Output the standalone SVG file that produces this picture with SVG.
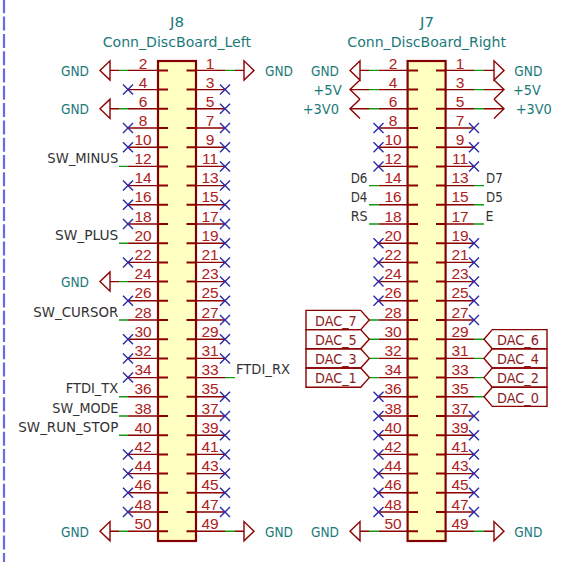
<svg xmlns="http://www.w3.org/2000/svg" width="573" height="562" viewBox="0 0 573 562">
<style>
text{font-family:"DejaVu Sans",sans-serif;font-size:14.5px}
.p{stroke:#8c0000;stroke-width:1.4;fill:none}
.h{stroke:#8c0000;stroke-width:1.4;fill:none}
.w{stroke:#109a10;stroke-width:1.4;fill:none}
.s{stroke:#8c0000;stroke-width:2;fill:none}
.b{fill:#ffffc2;stroke:#840000;stroke-width:2.2}
.n{fill:#b02020;font-family:"Liberation Sans",sans-serif;font-size:15.5px;text-anchor:middle}
.r{fill:#1a7a7a}
.l{fill:#333}
.d{fill:#8a1c1c}
.x{stroke:#2828a8;stroke-width:1.4;fill:none}
</style>
<defs>
<path id="x" class="x" d="M-5-5L5 5M-5 5L5-5"/>
<path id="gl" class="h" d="M0-9.6V9.6L-10 0Z"/>
<path id="gr" class="h" d="M0-9.6V9.6L10 0Z"/>
<path id="al" class="h" d="M0-9.6L-10 0L0 9.6"/>
<path id="ar" class="h" d="M0-9.6L10 0L0 9.6"/>
<path id="dl" class="h" d="M306-9.6H360.7L369.3 0L360.7 9.6H306Z"/>
<path id="dr" class="h" d="M484 0L492.3-9.6H547V9.6H492.3Z"/>
</defs>
<path d="M4 0V562" stroke="#6a6ae6" stroke-width="2.2" stroke-dasharray="14 3.3" stroke-dashoffset="0.7" fill="none"/>
<g id="connectors">
<path class="p" d="M128 70.4H158M128 89.6H158M128 108.8H158M128 128H158M128 147.2H158M128 166.4H158M128 185.6H158M128 204.8H158M128 224H158M128 243.2H158M128 262.4H158M128 281.6H158M128 300.8H158M128 320H158M128 339.2H158M128 358.4H158M128 377.6H158M128 396.8H158M128 416H158M128 435.2H158M128 454.4H158M128 473.6H158M128 492.8H158M128 512H158M128 531.2H158"/>
<path class="p" d="M196 70.4H225M196 89.6H225M196 108.8H225M196 128H225M196 147.2H225M196 166.4H225M196 185.6H225M196 204.8H225M196 224H225M196 243.2H225M196 262.4H225M196 281.6H225M196 300.8H225M196 320H225M196 339.2H225M196 358.4H225M196 377.6H225M196 396.8H225M196 416H225M196 435.2H225M196 454.4H225M196 473.6H225M196 492.8H225M196 512H225M196 531.2H225"/>
<path class="p" d="M378.5 70.4H408M378.5 89.6H408M378.5 108.8H408M378.5 128H408M378.5 147.2H408M378.5 166.4H408M378.5 185.6H408M378.5 204.8H408M378.5 224H408M378.5 243.2H408M378.5 262.4H408M378.5 281.6H408M378.5 300.8H408M378.5 320H408M378.5 339.2H408M378.5 358.4H408M378.5 377.6H408M378.5 396.8H408M378.5 416H408M378.5 435.2H408M378.5 454.4H408M378.5 473.6H408M378.5 492.8H408M378.5 512H408M378.5 531.2H408"/>
<path class="p" d="M446 70.4H474M446 89.6H474M446 108.8H474M446 128H474M446 147.2H474M446 166.4H474M446 185.6H474M446 204.8H474M446 224H474M446 243.2H474M446 262.4H474M446 281.6H474M446 300.8H474M446 320H474M446 339.2H474M446 358.4H474M446 377.6H474M446 396.8H474M446 416H474M446 435.2H474M446 454.4H474M446 473.6H474M446 492.8H474M446 512H474M446 531.2H474"/>
<path class="p" d="M110 70.4H119M110 108.8H119M110 281.6H119M110 531.2H119M235 70.4H244M235 531.2H244M360 70.4H369M350 89.6H369M350 108.8H369M360 531.2H369M484 70.4H494M484 89.6H504M484 108.8H504M484 531.2H494"/>
<path class="w" d="M119 70.4H128M119 108.8H128M119 166.4H128M119 243.2H128M119 281.6H128M119 320H128M119 396.8H128M119 416H128M119 435.2H128M119 531.2H128M225 70.4H235M225 377.6H235M225 531.2H235"/>
<path class="w" d="M369 70.4H378.5M369 89.6H378.5M369 108.8H378.5M369 185.6H378.5M369 204.8H378.5M369 224H378.5M369 320H378.5M369 339.2H378.5M369 358.4H378.5M369 377.6H378.5M369 531.2H378.5M474 70.4H484M474 89.6H484M474 108.8H484M474 185.6H484M474 204.8H484M474 224H484M474 339.2H484M474 358.4H484M474 377.6H484M474 396.8H484M474 531.2H484"/>
</g>
<g id="J8">
<rect class="b" x="158" y="61" width="38" height="480"/>
<path class="s" d="M158 70.4H168M158 89.6H168M158 108.8H168M158 128H168M158 147.2H168M158 166.4H168M158 185.6H168M158 204.8H168M158 224H168M158 243.2H168M158 262.4H168M158 281.6H168M158 300.8H168M158 320H168M158 339.2H168M158 358.4H168M158 377.6H168M158 396.8H168M158 416H168M158 435.2H168M158 454.4H168M158 473.6H168M158 492.8H168M158 512H168M158 531.2H168"/>
<path class="s" d="M186.5 70.4H196M186.5 89.6H196M186.5 108.8H196M186.5 128H196M186.5 147.2H196M186.5 166.4H196M186.5 185.6H196M186.5 204.8H196M186.5 224H196M186.5 243.2H196M186.5 262.4H196M186.5 281.6H196M186.5 300.8H196M186.5 320H196M186.5 339.2H196M186.5 358.4H196M186.5 377.6H196M186.5 396.8H196M186.5 416H196M186.5 435.2H196M186.5 454.4H196M186.5 473.6H196M186.5 492.8H196M186.5 512H196M186.5 531.2H196"/>
<text class="r" x="170" y="27.3" textLength="14" lengthAdjust="spacingAndGlyphs">J8</text>
<text class="r" x="102.7" y="46.7" textLength="148.3" lengthAdjust="spacingAndGlyphs">Conn_DiscBoard_Left</text>
<text class="n" x="143" y="68.5">2</text><text class="n" x="143" y="87.5">4</text><text class="n" x="143" y="106.5">6</text><text class="n" x="143" y="125.5">8</text><text class="n" x="143" y="145">10</text><text class="n" x="143" y="164">12</text><text class="n" x="143" y="183">14</text><text class="n" x="143" y="202">16</text><text class="n" x="143" y="221.5">18</text><text class="n" x="143" y="241">20</text><text class="n" x="143" y="260">22</text><text class="n" x="143" y="279">24</text><text class="n" x="143" y="298">26</text><text class="n" x="143" y="317.5">28</text><text class="n" x="143" y="337">30</text><text class="n" x="143" y="356">32</text><text class="n" x="143" y="375">34</text><text class="n" x="143" y="394">36</text><text class="n" x="143" y="413.5">38</text><text class="n" x="143" y="433">40</text><text class="n" x="143" y="452">42</text><text class="n" x="143" y="471">44</text><text class="n" x="143" y="490">46</text><text class="n" x="143" y="509.5">48</text><text class="n" x="143" y="529">50</text>
<text class="n" x="210" y="68.5">1</text><text class="n" x="210" y="87.5">3</text><text class="n" x="210" y="106.5">5</text><text class="n" x="210" y="125.5">7</text><text class="n" x="210" y="145">9</text><text class="n" x="210" y="164">11</text><text class="n" x="210" y="183">13</text><text class="n" x="210" y="202">15</text><text class="n" x="210" y="221.5">17</text><text class="n" x="210" y="241">19</text><text class="n" x="210" y="260">21</text><text class="n" x="210" y="279">23</text><text class="n" x="210" y="298">25</text><text class="n" x="210" y="317.5">27</text><text class="n" x="210" y="337">29</text><text class="n" x="210" y="356">31</text><text class="n" x="210" y="375">33</text><text class="n" x="210" y="394">35</text><text class="n" x="210" y="413.5">37</text><text class="n" x="210" y="433">39</text><text class="n" x="210" y="452">41</text><text class="n" x="210" y="471">43</text><text class="n" x="210" y="490">45</text><text class="n" x="210" y="509.5">47</text><text class="n" x="210" y="529">49</text>
<use href="#x" x="128" y="89.6"/><use href="#x" x="128" y="128"/><use href="#x" x="128" y="147.2"/><use href="#x" x="128" y="185.6"/><use href="#x" x="128" y="204.8"/><use href="#x" x="128" y="224"/><use href="#x" x="128" y="262.4"/><use href="#x" x="128" y="300.8"/><use href="#x" x="128" y="339.2"/><use href="#x" x="128" y="358.4"/><use href="#x" x="128" y="377.6"/><use href="#x" x="128" y="454.4"/><use href="#x" x="128" y="473.6"/><use href="#x" x="128" y="492.8"/><use href="#x" x="128" y="512"/>
<use href="#x" x="225" y="89.6"/><use href="#x" x="225" y="108.8"/><use href="#x" x="225" y="128"/><use href="#x" x="225" y="147.2"/><use href="#x" x="225" y="166.4"/><use href="#x" x="225" y="185.6"/><use href="#x" x="225" y="204.8"/><use href="#x" x="225" y="224"/><use href="#x" x="225" y="243.2"/><use href="#x" x="225" y="262.4"/><use href="#x" x="225" y="281.6"/><use href="#x" x="225" y="300.8"/><use href="#x" x="225" y="320"/><use href="#x" x="225" y="339.2"/><use href="#x" x="225" y="358.4"/><use href="#x" x="225" y="396.8"/><use href="#x" x="225" y="416"/><use href="#x" x="225" y="435.2"/><use href="#x" x="225" y="454.4"/><use href="#x" x="225" y="473.6"/><use href="#x" x="225" y="492.8"/><use href="#x" x="225" y="512"/>
</g>
<g id="J8-labels">
<use href="#gl" x="110" y="70.4"/><use href="#gl" x="110" y="108.8"/><use href="#gl" x="110" y="281.6"/><use href="#gl" x="110" y="531.2"/><use href="#gr" x="244" y="70.4"/><use href="#gr" x="244" y="531.2"/>
<text class="r" x="61" y="76" textLength="28" lengthAdjust="spacingAndGlyphs">GND</text><text class="r" x="61" y="114.3" textLength="28" lengthAdjust="spacingAndGlyphs">GND</text><text class="r" x="61" y="287" textLength="28" lengthAdjust="spacingAndGlyphs">GND</text><text class="r" x="61" y="536.7" textLength="28" lengthAdjust="spacingAndGlyphs">GND</text><text class="r" x="265" y="76" textLength="28" lengthAdjust="spacingAndGlyphs">GND</text><text class="r" x="265" y="536.7" textLength="28" lengthAdjust="spacingAndGlyphs">GND</text>
<text class="l" x="47.3" y="163.3" textLength="71" lengthAdjust="spacingAndGlyphs">SW_MINUS</text><text class="l" x="55" y="240.3" textLength="63.3" lengthAdjust="spacingAndGlyphs">SW_PLUS</text><text class="l" x="33.3" y="316.7" textLength="85" lengthAdjust="spacingAndGlyphs">SW_CURSOR</text><text class="l" x="65.7" y="393.3" textLength="52.6" lengthAdjust="spacingAndGlyphs">FTDI_TX</text><text class="l" x="52.3" y="412.7" textLength="66" lengthAdjust="spacingAndGlyphs">SW_MODE</text><text class="l" x="18.3" y="431.7" textLength="100" lengthAdjust="spacingAndGlyphs">SW_RUN_STOP</text><text class="l" x="236" y="374" textLength="54" lengthAdjust="spacingAndGlyphs">FTDI_RX</text>
</g>
<g id="J7">
<rect class="b" x="407.6" y="61" width="38" height="480"/>
<path class="s" d="M408 70.4H418M408 89.6H418M408 108.8H418M408 128H418M408 147.2H418M408 166.4H418M408 185.6H418M408 204.8H418M408 224H418M408 243.2H418M408 262.4H418M408 281.6H418M408 300.8H418M408 320H418M408 339.2H418M408 358.4H418M408 377.6H418M408 396.8H418M408 416H418M408 435.2H418M408 454.4H418M408 473.6H418M408 492.8H418M408 512H418M408 531.2H418"/>
<path class="s" d="M436 70.4H446M436 89.6H446M436 108.8H446M436 128H446M436 147.2H446M436 166.4H446M436 185.6H446M436 204.8H446M436 224H446M436 243.2H446M436 262.4H446M436 281.6H446M436 300.8H446M436 320H446M436 339.2H446M436 358.4H446M436 377.6H446M436 396.8H446M436 416H446M436 435.2H446M436 454.4H446M436 473.6H446M436 492.8H446M436 512H446M436 531.2H446"/>
<text class="r" x="420" y="27.3" textLength="14" lengthAdjust="spacingAndGlyphs">J7</text>
<text class="r" x="347.3" y="46.7" textLength="158.7" lengthAdjust="spacingAndGlyphs">Conn_DiscBoard_Right</text>
<text class="n" x="393" y="68.5">2</text><text class="n" x="393" y="87.5">4</text><text class="n" x="393" y="106.5">6</text><text class="n" x="393" y="125.5">8</text><text class="n" x="393" y="145">10</text><text class="n" x="393" y="164">12</text><text class="n" x="393" y="183">14</text><text class="n" x="393" y="202">16</text><text class="n" x="393" y="221.5">18</text><text class="n" x="393" y="241">20</text><text class="n" x="393" y="260">22</text><text class="n" x="393" y="279">24</text><text class="n" x="393" y="298">26</text><text class="n" x="393" y="317.5">28</text><text class="n" x="393" y="337">30</text><text class="n" x="393" y="356">32</text><text class="n" x="393" y="375">34</text><text class="n" x="393" y="394">36</text><text class="n" x="393" y="413.5">38</text><text class="n" x="393" y="433">40</text><text class="n" x="393" y="452">42</text><text class="n" x="393" y="471">44</text><text class="n" x="393" y="490">46</text><text class="n" x="393" y="509.5">48</text><text class="n" x="393" y="529">50</text>
<text class="n" x="460" y="68.5">1</text><text class="n" x="460" y="87.5">3</text><text class="n" x="460" y="106.5">5</text><text class="n" x="460" y="125.5">7</text><text class="n" x="460" y="145">9</text><text class="n" x="460" y="164">11</text><text class="n" x="460" y="183">13</text><text class="n" x="460" y="202">15</text><text class="n" x="460" y="221.5">17</text><text class="n" x="460" y="241">19</text><text class="n" x="460" y="260">21</text><text class="n" x="460" y="279">23</text><text class="n" x="460" y="298">25</text><text class="n" x="460" y="317.5">27</text><text class="n" x="460" y="337">29</text><text class="n" x="460" y="356">31</text><text class="n" x="460" y="375">33</text><text class="n" x="460" y="394">35</text><text class="n" x="460" y="413.5">37</text><text class="n" x="460" y="433">39</text><text class="n" x="460" y="452">41</text><text class="n" x="460" y="471">43</text><text class="n" x="460" y="490">45</text><text class="n" x="460" y="509.5">47</text><text class="n" x="460" y="529">49</text>
<use href="#x" x="378.5" y="128"/><use href="#x" x="378.5" y="147.2"/><use href="#x" x="378.5" y="166.4"/><use href="#x" x="378.5" y="243.2"/><use href="#x" x="378.5" y="262.4"/><use href="#x" x="378.5" y="281.6"/><use href="#x" x="378.5" y="300.8"/><use href="#x" x="378.5" y="396.8"/><use href="#x" x="378.5" y="416"/><use href="#x" x="378.5" y="435.2"/><use href="#x" x="378.5" y="454.4"/><use href="#x" x="378.5" y="473.6"/><use href="#x" x="378.5" y="492.8"/><use href="#x" x="378.5" y="512"/>
<use href="#x" x="474" y="128"/><use href="#x" x="474" y="147.2"/><use href="#x" x="474" y="166.4"/><use href="#x" x="474" y="243.2"/><use href="#x" x="474" y="262.4"/><use href="#x" x="474" y="281.6"/><use href="#x" x="474" y="300.8"/><use href="#x" x="474" y="320"/><use href="#x" x="474" y="416"/><use href="#x" x="474" y="435.2"/><use href="#x" x="474" y="454.4"/><use href="#x" x="474" y="473.6"/><use href="#x" x="474" y="492.8"/><use href="#x" x="474" y="512"/>
</g>
<g id="J7-labels">
<use href="#gl" x="360" y="70.4"/><use href="#al" x="360" y="89.6"/><use href="#al" x="360" y="108.8"/><use href="#gl" x="360" y="531.2"/>
<use href="#gr" x="494" y="70.4"/><use href="#ar" x="494" y="89.6"/><use href="#ar" x="494" y="108.8"/><use href="#gr" x="494" y="531.2"/>
<text class="r" x="311" y="76" textLength="28" lengthAdjust="spacingAndGlyphs">GND</text><text class="r" x="313.3" y="95" textLength="28.4" lengthAdjust="spacingAndGlyphs">+5V</text><text class="r" x="302.7" y="114.3" textLength="36.3" lengthAdjust="spacingAndGlyphs">+3V0</text><text class="r" x="311" y="536.7" textLength="28" lengthAdjust="spacingAndGlyphs">GND</text>
<text class="r" x="514.3" y="76" textLength="28" lengthAdjust="spacingAndGlyphs">GND</text><text class="r" x="513" y="95" textLength="27.7" lengthAdjust="spacingAndGlyphs">+5V</text><text class="r" x="515.7" y="114.3" textLength="36" lengthAdjust="spacingAndGlyphs">+3V0</text><text class="r" x="514.3" y="536.7" textLength="28" lengthAdjust="spacingAndGlyphs">GND</text>
<text class="l" x="350.7" y="182.7" textLength="16.7" lengthAdjust="spacingAndGlyphs">D6</text><text class="l" x="350.7" y="201.9" textLength="16.7" lengthAdjust="spacingAndGlyphs">D4</text><text class="l" x="350.7" y="221.1" textLength="17" lengthAdjust="spacingAndGlyphs">RS</text><text class="l" x="486" y="182.7" textLength="16.7" lengthAdjust="spacingAndGlyphs">D7</text><text class="l" x="486" y="201.9" textLength="16.7" lengthAdjust="spacingAndGlyphs">D5</text><text class="l" x="485.5" y="221.1" textLength="8" lengthAdjust="spacingAndGlyphs">E</text>
</g>
<g id="DAC">
<use href="#dl" y="320"/><use href="#dl" y="339.2"/><use href="#dl" y="358.4"/><use href="#dl" y="377.6"/>
<use href="#dr" y="339.2"/><use href="#dr" y="358.4"/><use href="#dr" y="377.6"/><use href="#dr" y="396.8"/>
<text class="d" x="315" y="325.7" textLength="41.7" lengthAdjust="spacingAndGlyphs">DAC_7</text><text class="d" x="315" y="344.9" textLength="41.7" lengthAdjust="spacingAndGlyphs">DAC_5</text><text class="d" x="315" y="364.1" textLength="41.7" lengthAdjust="spacingAndGlyphs">DAC_3</text><text class="d" x="315" y="383.3" textLength="41.7" lengthAdjust="spacingAndGlyphs">DAC_1</text>
<text class="d" x="497" y="344.9" textLength="42" lengthAdjust="spacingAndGlyphs">DAC_6</text><text class="d" x="497" y="364.1" textLength="42" lengthAdjust="spacingAndGlyphs">DAC_4</text><text class="d" x="497" y="383.3" textLength="42" lengthAdjust="spacingAndGlyphs">DAC_2</text><text class="d" x="497" y="402.5" textLength="42" lengthAdjust="spacingAndGlyphs">DAC_0</text>
</g>
</svg>
